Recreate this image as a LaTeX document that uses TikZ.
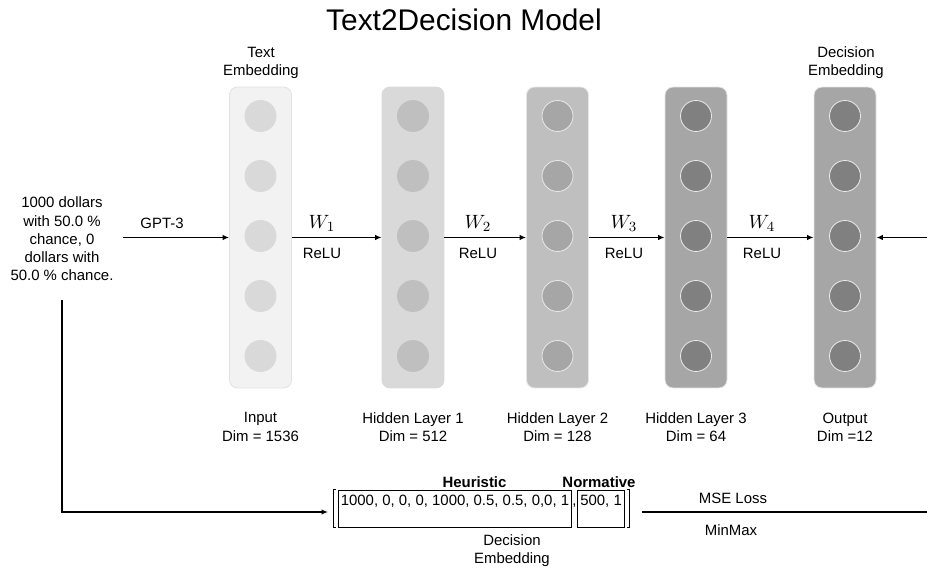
\documentclass[tikz,border=0pt]{standalone}
\usepackage{fontspec}
\setmainfont{Liberation Sans}
\usetikzlibrary{arrows.meta,positioning}
\definecolor{fillA}{HTML}{F2F2F2}
\definecolor{fillB}{HTML}{D9D9D9}
\definecolor{fillC}{HTML}{BFBFBF}
\definecolor{fillD}{HTML}{A6A6A6}
\definecolor{dotD}{HTML}{808080}
\definecolor{edgeA}{HTML}{E2E2E2}
\definecolor{edgeC}{HTML}{E6E6E6}
\tikzset{
  layerbox/.style={rounded corners=4.5pt,minimum width=1.24cm,minimum height=6.02cm,inner sep=0pt,line width=0.5pt},
  neuron/.style={circle,minimum size=0.62cm,inner sep=0pt,line width=0.5pt},
  flow/.style={-{Latex[length=1.3mm,width=1.1mm]},line width=0.7pt},
  lbl/.style={font=\fontsize{8.5}{10.4}\selectfont,align=center,inner sep=0pt},
  wlab/.style={font=\fontsize{11}{13}\selectfont,inner sep=0pt},
  vecbox/.style={draw,line width=0.5pt,inner xsep=1.5pt,inner ysep=0pt,text height=0.3cm,text depth=0.44cm,font=\fontsize{8.5}{10}\selectfont}
}

\begin{document}
\begin{tikzpicture}[x=0.02cm,y=-0.02cm]
  \useasboundingbox (0,0) rectangle (927,571);
  \node[font=\fontsize{17}{20}\selectfont] (title) at (464,20) {Text2Decision Model};
  % layers
  \foreach \n/\xc/\lf/\ld/\dd/\dl in {0/260.5/fillA/edgeA/fillB/fillB, 1/413/fillB/fillB/fillC/fillC, 2/557.5/fillC/edgeC/fillD/edgeC, 3/696/fillD/edgeC/dotD/edgeC, 4/845/fillD/edgeC/dotD/edgeC}
  {
    \node[layerbox,fill=\lf,draw=\ld] (L\n) at (\xc,237.5) {};
    \foreach \k in {1,...,5}
      \node[neuron,fill=\dd,draw=\dl] (L\n-\k) at (\xc,56+60*\k) {};
  }
  \node[lbl] (txtemb) at (261,63) {Text\\Embedding};
  \node[lbl] (decemb) at (846,63) {Decision\\Embedding};
  \foreach \n/\xc/\dimtxt in {0/260.5/{Input\\Dim = 1536}, 1/413/{Hidden Layer 1\\Dim = 512}, 2/557.5/{Hidden Layer 2\\Dim = 128}, 3/696/{Hidden Layer 3\\Dim = 64}, 4/845/{Output\\Dim =12}}
    \node[lbl] (dim\n) at (\xc,427) {\dimtxt};
  % weights between layers
  \foreach \a/\b/\xl in {0/1/322, 1/2/478, 2/3/624, 3/4/762}
  {
    \draw[flow] (L\a) -- (L\b);
    \node[wlab] (w\b) at (\xl,223) {$W_\b$};
    \node[lbl] (relu\b) at (\xl,253) {ReLU};
  }
  % input text
  \node[lbl] (prompt) at (62,239) {1000 dollars\\with 50.0 \%\\chance, 0\\dollars with\\50.0 \% chance.};
  \coordinate (gptin) at (123,237.5);
  \draw[flow] (gptin) -- (L0);
  \node[lbl] (gpt) at (162,223) {GPT-3};
  \coordinate (lossin) at (927,237.5);
  \draw[flow] (lossin) -- (L4);
  % target vector
  \node[vecbox] (heur) at (455,508.5) {1000, 0, 0, 0, 1000, 0.5, 0.5, 0,0, 1};
  \node[vecbox,right=0.1cm of heur] (norm) {500, 1};
  \node[lbl,anchor=base] (comma) at (574.5,505) {,};
  \draw[line width=0.5pt] ([xshift=-1pt]heur.north west) -- ([xshift=-2.5pt]heur.north west) -- ([xshift=-2.5pt]heur.south west) -- ([xshift=-1pt]heur.south west);
  \draw[line width=0.5pt] ([xshift=1pt]norm.north east) -- ([xshift=2.5pt]norm.north east) -- ([xshift=2.5pt]norm.south east) -- ([xshift=1pt]norm.south east);
  \node[lbl,font=\fontsize{8.5}{10.4}\selectfont\bfseries] (heurlab) at (474.5,482) {Heuristic};
  \node[lbl,font=\fontsize{8.5}{10.4}\selectfont\bfseries] (normlab) at (599,482) {Normative};
  \node[lbl] (veclab) at (512,550.5) {Decision\\Embedding};
  \coordinate (promptdown) at (62,300);
  \coordinate (vecin) at (328,512);
  \draw[flow] (promptdown) |- (vecin);
  % loss
  \coordinate (mseA) at (642,512);
  \coordinate (mseB) at (927,512);
  \draw[line width=0.7pt] (mseA) -- (mseB);
  \node[lbl] (mselab) at (733,498) {MSE Loss};
  \node[lbl] (minmax) at (731,530) {MinMax};
\end{tikzpicture}
\end{document}
